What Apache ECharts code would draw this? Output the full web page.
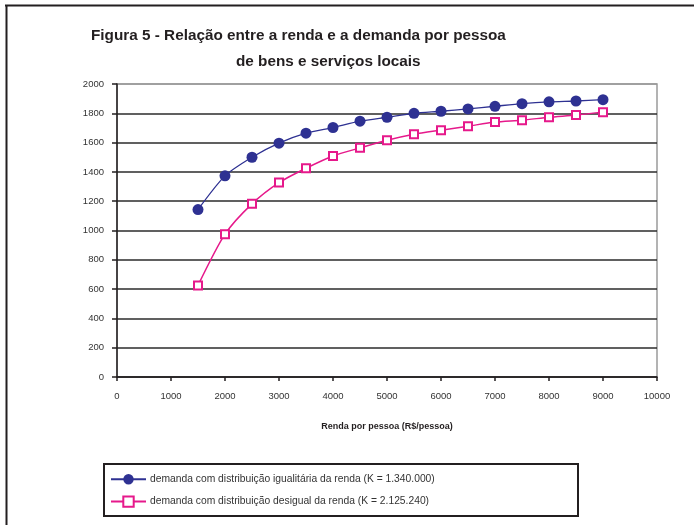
<!DOCTYPE html>
<html>
<head>
<meta charset="utf-8">
<script src="https://cdn.jsdelivr.net/npm/echarts@6/dist/echarts.min.js"></script>
<style>
  html, body { margin: 0; padding: 0; background: #fff; }
  #chart { width: 694px; height: 525px; }
</style>
</head>
<body>
<div id="chart"></div>
<script>
// renda por pessoa (R$/pessoa)
const renda = [1500, 2000, 2500, 3000, 3500, 4000, 4500, 5000, 5500, 6000, 6500, 7000, 7500, 8000, 8500, 9000];
// demanda com distribuição igualitária
const demandaIgual = [1143, 1373, 1500, 1596, 1664, 1703, 1746, 1773, 1800, 1814, 1830, 1848, 1866, 1878, 1884, 1893];
// demanda com distribuição desigual
const demandaDesigual = [625, 975, 1182, 1327, 1425, 1509, 1564, 1616, 1657, 1685, 1712, 1740, 1753, 1773, 1788, 1808];

const nomeIgual = 'demanda com distribuição igualitária da renda (K = 1.340.000)';
const nomeDesigual = 'demanda com distribuição desigual da renda (K = 2.125.240)';

const font = 'Arial, "Liberation Sans", sans-serif';

function pares(xs, ys) {
    return xs.map((x, i) => [x, ys[i]]);
}

const chart = echarts.init(document.getElementById('chart'));

const gridColors = [];
for (let i = 0; i < 10; i++) gridColors.push('#2b2b2b');
gridColors.push('#9a9a9a');

const option = {
    animation: false,
    backgroundColor: '#fff',
    textStyle: { fontFamily: font },
    title: [
        {
            text: 'Figura 5 - Relação entre a renda e a demanda por pessoa',
            left: 86, top: 23,
            textStyle: { fontSize: 15.3, fontWeight: 'bold', color: '#231f20', fontFamily: font }
        },
        {
            text: 'de bens e serviços locais',
            left: 231, top: 49,
            textStyle: { fontSize: 15.3, fontWeight: 'bold', color: '#231f20', fontFamily: font }
        }
    ],
    grid: {
        left: 117, top: 84, width: 540, height: 293,
        show: true, borderColor: '#9a9a9a', borderWidth: 1.5, backgroundColor: '#fff'
    },
    xAxis: {
        type: 'value', min: 0, max: 10000, interval: 1000,
        name: 'Renda por pessoa (R$/pessoa)',
        nameLocation: 'middle', nameGap: 45,
        nameTextStyle: { fontSize: 9, fontWeight: 'bold', color: '#231f20', fontFamily: font },
        axisLine: { show: true, lineStyle: { color: '#231f20', width: 1.5 } },
        axisTick: { show: true, length: 4, lineStyle: { color: '#231f20', width: 1.5 } },
        axisLabel: { fontSize: 9.5, color: '#333', margin: 14, fontFamily: font, formatter: v => String(v) },
        splitLine: { show: false }
    },
    yAxis: {
        type: 'value', min: 0, max: 2000, interval: 200,
        axisLine: { show: true, lineStyle: { color: '#231f20', width: 1.5 } },
        axisTick: { show: true, length: 5, lineStyle: { color: '#231f20', width: 1.5 } },
        axisLabel: { fontSize: 9.5, color: '#333', margin: 13, fontFamily: font, formatter: v => String(v) },
        splitLine: { show: true, lineStyle: { color: gridColors, width: 1.5 } }
    },
    legend: {
        orient: 'vertical',
        left: 105, top: 469,
        padding: [5, 5],
        itemWidth: 35, itemHeight: 13, itemGap: 11,
        textStyle: { fontSize: 10.3, color: '#333', fontFamily: font, padding: [0, 0, 0, -1] },
        data: [nomeIgual, nomeDesigual]
    },
    graphic: [
        { type: 'line', shape: { x1: 5, y1: 5.5, x2: 694, y2: 5.5 }, style: { stroke: '#231f20', lineWidth: 2 } },
        { type: 'line', shape: { x1: 6.5, y1: 5, x2: 6.5, y2: 525 }, style: { stroke: '#231f20', lineWidth: 2 } },
        { type: 'rect', shape: { x: 104, y: 464, width: 474, height: 52 }, style: { fill: 'none', stroke: '#231f20', lineWidth: 2 }, z: 10 }
    ],
    series: [
        {
            name: nomeIgual,
            type: 'line',
            data: pares(renda, demandaIgual),
            smooth: 0.25,
            symbol: 'circle', symbolSize: 11,
            lineStyle: { color: '#2e3192', width: 1.3 },
            itemStyle: { color: '#2e3192', borderColor: '#2e3192', borderWidth: 0 },
            z: 5
        },
        {
            name: nomeDesigual,
            type: 'line',
            data: pares(renda, demandaDesigual),
            smooth: 0.25,
            symbol: 'rect', symbolSize: 8,
            showAllSymbol: true,
            lineStyle: { color: '#e6198b', width: 1.5 },
            itemStyle: { color: '#fff', borderColor: '#e6198b', borderWidth: 2 },
            z: 4
        }
    ]
};

chart.setOption(option);
</script>
</body>
</html>
